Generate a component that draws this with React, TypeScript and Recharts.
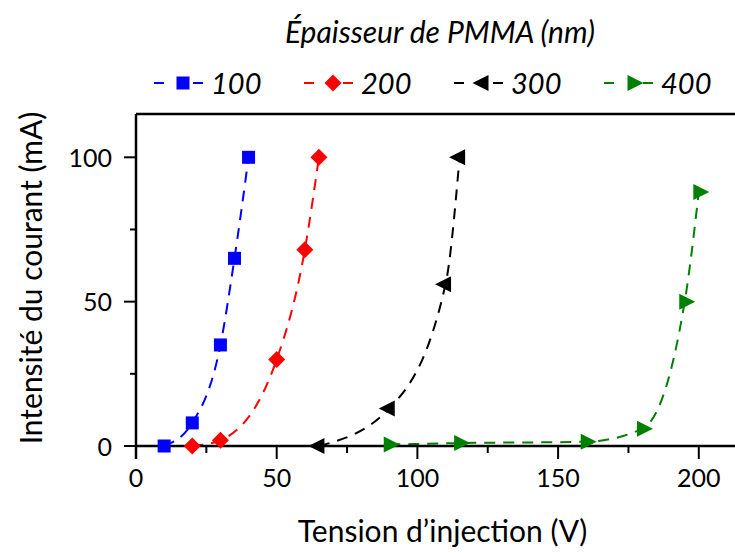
import React from 'react';
import { ComposedChart, Line, XAxis, YAxis, ReferenceLine, Legend } from 'recharts';

// ---- data ----
const xTicks = [0, 25, 50, 75, 100, 125, 150, 175, 200];
const yTicks = [0, 25, 50, 75, 100];
const xMajor = [0, 50, 100, 150, 200];
const yMajor = [0, 50, 100];

const seriesNames = ['100', '200', '300', '400'];
const seriesColors = ['#0000ff', '#ff0000', '#000000', '#008000'];
const seriesShapes = ['square', 'diamond', 'triLeft', 'triRight'];

const v100 = [10, 20, 30, 35, 40];
const i100 = [0, 8, 35, 65, 100];
const v200 = [20, 30, 50, 60, 65];
const i200 = [0, 2, 30, 68, 100];
const v300 = [65, 90, 110, 115];
const i300 = [0, 13, 56, 100];
const v400 = [90, 115, 160, 180, 195, 200];
const i400 = [0.5, 1, 1.5, 6, 50, 88];

const xTitle = 'Tension d\u2019injection (V)';
const yTitle = 'Intensit\u00e9 du courant (mA)';
const legendTitle = '\u00c9paisseur de PMMA (nm)';

const zip = (xs: number[], ys: number[]) => xs.map((x, k) => ({ x, y: ys[k] }));
const seriesData = [zip(v100, i100), zip(v200, i200), zip(v300, i300), zip(v400, i400)];

const FONT = 'Lato, "Open Sans", sans-serif';

const Marker = ({ shape, cx, cy, color }: any) => {
  if (shape === 'square') return <rect x={cx - 6.5} y={cy - 6.5} width={13} height={13} fill={color} />;
  if (shape === 'diamond')
    return <polygon points={`${cx},${cy - 8.5} ${cx + 8.5},${cy} ${cx},${cy + 8.5} ${cx - 8.5},${cy}`} fill={color} />;
  if (shape === 'triLeft')
    return <polygon points={`${cx - 10.5},${cy} ${cx + 5.5},${cy - 8} ${cx + 5.5},${cy + 8}`} fill={color} />;
  return <polygon points={`${cx + 10.5},${cy} ${cx - 5.5},${cy - 8} ${cx - 5.5},${cy + 8}`} fill={color} />;
};

const BottomTick = (props: any) => {
  const { x, y, payload } = props;
  const major = xMajor.includes(payload.value);
  return (
    <g>
      <line x1={x} y1={y} x2={x} y2={y + (major ? 13 : 7)} stroke="#000" strokeWidth={2} />
      {major && (
        <text x={x} y={y + 41} textAnchor="middle" fontSize={25} fontFamily={FONT} fill="#000">
          {payload.value}
        </text>
      )}
    </g>
  );
};

const TopTick = (props: any) => {
  const { x, y, payload } = props;
  const major = xMajor.includes(payload.value);
  return <line x1={x} y1={y} x2={x} y2={y + (major ? 13 : 7)} stroke="#000" strokeWidth={2} />;
};

const LeftTick = (props: any) => {
  const { x, y, payload } = props;
  const major = yMajor.includes(payload.value);
  return (
    <g>
      <line x1={x - (major ? 12 : 6)} y1={y} x2={x} y2={y} stroke="#000" strokeWidth={2} />
      {major && (
        <text x={x - 24} y={y + 9.5} textAnchor="end" fontSize={25} fontFamily={FONT} fill="#000">
          {payload.value}
        </text>
      )}
    </g>
  );
};

const RightTick = (props: any) => {
  const { x, y, payload } = props;
  const major = yMajor.includes(payload.value);
  return <line x1={x - (major ? 13 : 7)} y1={y} x2={x} y2={y} stroke="#000" strokeWidth={2} />;
};

const XTitle = (props: any) => {
  const vb = props.viewBox;
  return (
    <text x={vb.x + vb.width / 2 + 4} y={vb.y + 96} textAnchor="middle" fontSize={30} fontFamily={FONT} fill="#000">
      {xTitle}
    </text>
  );
};

const YTitle = (props: any) => {
  const vb = props.viewBox;
  const cx = vb.x + 30;
  const cy = vb.y + vb.height / 2 - 2;
  return (
    <text
      x={cx}
      y={cy}
      transform={`rotate(-90 ${cx} ${cy})`}
      textAnchor="middle"
      dominantBaseline="central"
      fontSize={30}
      fontFamily={FONT}
      fill="#000"
    >
      {yTitle}
    </text>
  );
};

const LegendContent = () => (
  <svg width={735} height={110} style={{ position: 'absolute', left: 0, top: 0, overflow: 'visible' }}>
    <text x={440} y={43} textAnchor="middle" fontSize={30} fontStyle="italic" fontFamily={FONT} fill="#000">
      {legendTitle}
    </text>
    {seriesNames.map((name, k) => {
      const s = 154 + k * 150;
      const c = seriesColors[k];
      return (
        <g key={name}>
          <line x1={s} y1={83} x2={s + 10} y2={83} stroke={c} strokeWidth={2} />
          <line x1={s + 39} y1={83} x2={s + 49} y2={83} stroke={c} strokeWidth={2} />
          <Marker shape={seriesShapes[k]} cx={s + 29} cy={83} color={c} />
          <text x={s + 57} y={94} fontSize={29} fontStyle="italic" fontFamily={FONT} fill="#000">
            {name}
          </text>
        </g>
      );
    })}
  </svg>
);

export default function App() {
  return (
    <div style={{ position: 'absolute', left: 0, top: 0, width: 735, height: 553, overflow: 'hidden', background: '#fff' }}>
      <ComposedChart width={760} height={553} margin={{ top: 0, right: 0, bottom: 0, left: 0 }}>
        <Legend
          verticalAlign="top"
          content={LegendContent}
          wrapperStyle={{ position: 'absolute', top: 0, left: 0, width: 735, height: 0, overflow: 'visible' }}
        />
        <XAxis
          xAxisId="bottom"
          type="number"
          dataKey="x"
          domain={[0, 215]}
          ticks={xTicks}
          interval={0}
          height={107}
          tickSize={0}
          tickMargin={0}
          tickLine={false}
          tick={<BottomTick />}
          axisLine={{ stroke: '#000', strokeWidth: 2.5 }}
          label={{ content: XTitle }}
        />
        <XAxis
          xAxisId="top"
          orientation="top"
          type="number"
          dataKey="x"
          domain={[0, 215]}
          ticks={xTicks}
          interval={0}
          height={114}
          tickSize={0}
          tickMargin={0}
          tickLine={false}
          tick={<TopTick />}
          axisLine={{ stroke: '#000', strokeWidth: 2.5 }}
        />
        <YAxis
          yAxisId="left"
          type="number"
          domain={[0, 115]}
          ticks={yTicks}
          interval={0}
          width={136}
          tickSize={0}
          tickMargin={0}
          tickLine={false}
          tick={<LeftTick />}
          axisLine={{ stroke: '#000', strokeWidth: 2.5 }}
          label={{ content: YTitle }}
        />
        <YAxis
          yAxisId="right"
          orientation="right"
          type="number"
          domain={[0, 115]}
          ticks={yTicks}
          interval={0}
          width={19}
          tickSize={0}
          tickMargin={0}
          tickLine={false}
          tick={<RightTick />}
          axisLine={{ stroke: '#000', strokeWidth: 2.5 }}
        />
        <ReferenceLine
          xAxisId="bottom"
          yAxisId="left"
          segment={[{ x: 0, y: -4.5 }, { x: 0, y: 0 }]}
          ifOverflow="visible"
          stroke="#000"
          strokeWidth={2.5}
        />
        {seriesData.map((d, k) => (
          <Line
            key={seriesNames[k]}
            name={seriesNames[k]}
            data={d}
            dataKey="y"
            xAxisId="bottom"
            yAxisId="left"
            type="monotone"
            stroke={seriesColors[k]}
            strokeWidth={2}
            strokeDasharray="11 8"
            isAnimationActive={false}
            dot={(p: any) => (
              <Marker key={`${seriesNames[k]}-${p.index}`} shape={seriesShapes[k]} cx={p.cx} cy={p.cy} color={seriesColors[k]} />
            )}
            activeDot={false}
          />
        ))}
      </ComposedChart>
    </div>
  );
}
